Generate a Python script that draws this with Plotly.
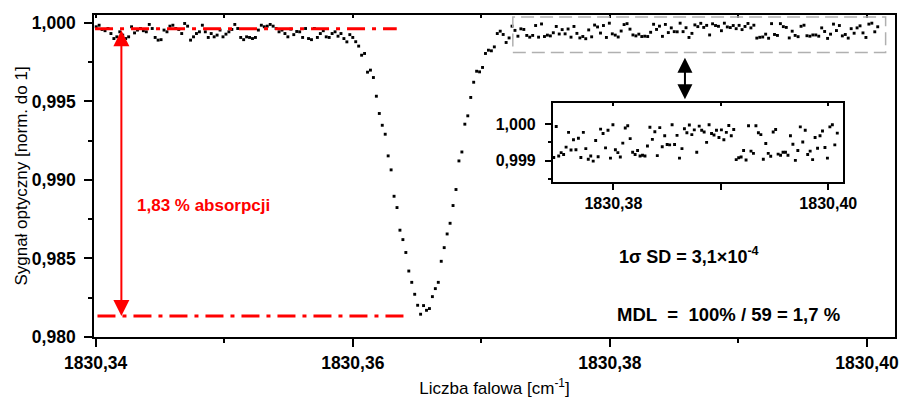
import numpy as np
import plotly.graph_objects as go

# Wavenumber sampling grid of the scan [cm^-1]
wavenumber_start = 1830.34004
wavenumber_step = 0.00022942

# Normalised optical signal, one value per grid point
signal = [
    0.99975, 0.99985, 0.99958, 0.99950, 0.99964, 0.99932, 0.99900, 0.99911, 0.99943, 0.99922,
    0.99900, 0.99911, 0.99975, 0.99936, 0.99954, 0.99964, 0.99950, 0.99943, 0.99990, 0.99964,
    0.99907, 0.99890, 0.99893, 0.99954, 0.99943, 0.99979, 0.99985, 0.99964, 0.99958, 0.99932,
    0.99996, 0.99979, 0.99890, 0.99911, 0.99932, 0.99943, 0.99985, 0.99943, 0.99907, 0.99932,
    0.99911, 0.99922, 0.99954, 0.99911, 0.99928, 0.99943, 0.99958, 0.99990, 0.99964, 0.99907,
    0.99893, 0.99911, 0.99907, 0.99900, 0.99907, 0.99954, 0.99985, 0.99975, 0.99979, 0.99990,
    0.99979, 0.99964, 0.99943, 0.99954, 0.99932, 0.99911, 0.99960, 0.99925, 0.99945, 0.99943,
    0.99907, 0.99964, 0.99900, 0.99893, 0.99964, 0.99907, 0.99932, 0.99950, 0.99911, 0.99907,
    0.99932, 0.99943, 0.99915, 0.99932, 0.99900, 0.99879, 0.99925,
    # absorption line
    0.99907, 0.99880, 0.99852, 0.99794, 0.99805, 0.99686, 0.99699, 0.99652, 0.99533, 0.99423,
    0.99348, 0.99291, 0.99153, 0.99064, 0.98896, 0.98824, 0.98680, 0.98620, 0.98538, 0.98420,
    0.98348, 0.98272, 0.98202, 0.98145, 0.98200, 0.98170, 0.98181, 0.98257, 0.98308, 0.98348,
    0.98482, 0.98569, 0.98656, 0.98724, 0.98837, 0.98939, 0.99121, 0.99178, 0.99355, 0.99408,
    0.99525, 0.99622, 0.99692, 0.99688, 0.99716, 0.99805, 0.99826, 0.99822, 0.99847, 0.99932,
    0.99947, 0.99926, 0.99875, 0.99904, 0.99979,
    0.99952, 0.99915, 0.99962, 0.99958, 0.99920, 0.99909, 0.99920, 0.99983, 0.99909,
    # baseline used for the noise estimate
    0.99993, 0.99913, 0.99922, 0.99917, 0.99937, 0.99977, 0.99929, 0.99957, 0.99930, 0.99961,
    0.99909, 0.99977, 0.99933, 0.99904, 0.99913, 0.99899, 0.99955, 0.99911, 0.99986, 0.99974,
    0.99935, 0.99983, 0.99907, 0.99998, 0.99930, 0.99922, 0.99910, 0.99948, 0.99989, 0.99995,
    0.99960, 0.99923, 0.99917, 0.99928, 0.99913, 0.99915, 0.99913, 0.99940, 0.99991, 0.99958,
    0.99979, 0.99914, 0.99990, 0.99938, 0.99968, 0.99944, 0.99943, 0.99998, 0.99944, 0.99969,
    0.99907, 0.99933, 0.99987, 0.99976, 0.99997, 0.99971, 0.99984,
    0.99923, 0.99994, 0.99983, 0.99978, 0.99950, 0.99998, 0.99974, 0.99970, 0.99983, 0.99963,
    0.99984, 0.99957, 0.99977, 0.99996, 0.99968, 0.99985, 0.99903, 0.99908, 0.99910, 0.99928,
    0.99902, 0.99995, 0.99926, 0.99920, 0.99995, 0.99976, 0.99971, 0.99904, 0.99947, 0.99920,
    0.99912, 0.99978, 0.99985, 0.99918, 0.99915, 0.99923, 0.99923, 0.99915, 0.99968, 0.99945,
    0.99901, 0.99928, 0.99992, 0.99951, 0.99983, 0.99917, 0.99926, 0.99903, 0.99963, 0.99934,
    0.99968, 0.99981, 0.99936, 0.99907, 0.99992, 0.99998, 0.99943, 0.99975,
]

# Axis ticks and labels
main_x_ticks = [1830.34, 1830.36, 1830.38, 1830.40]
main_x_labels = ["1830,34", "1830,36", "1830,38", "1830,40"]
main_x_minor = [1830.35, 1830.37, 1830.39]
main_y_ticks = [0.980, 0.985, 0.990, 0.995, 1.000]
main_y_labels = ["0,980", "0,985", "0,990", "0,995", "1,000"]
main_y_minor = [0.9825, 0.9875, 0.9925, 0.9975]
inset_x_ticks = [1830.38, 1830.40]
inset_x_labels = ["1830,38", "1830,40"]
inset_x_minor = [1830.39]
inset_y_ticks = [0.999, 1.000]
inset_y_labels = ["0,999", "1,000"]
inset_y_minor = [0.9985, 0.9995]

# Absorption depth and the noise figures
absorption_pct = 1.83
baseline_level = 0.99963
peak_level = baseline_level * (1 - absorption_pct / 100)

main_x_range = [1830.33987, 1830.40218]
main_y_range = [0.980, 1.0005]
inset_x_range = [1830.37438, 1830.40134]
inset_y_range = [0.99843, 1.00057]

x = wavenumber_start + wavenumber_step * np.arange(len(signal))
y = np.array(signal)
in_inset = (x >= inset_x_range[0]) & (x <= inset_x_range[1])

FONT = "Liberation Sans, Arial, sans-serif"
RED = "#ff0000"

fig = go.Figure()
marker = dict(symbol="square", size=2.9, color="black", line=dict(width=0))
fig.add_trace(go.Scatter(x=x, y=y, mode="markers", marker=marker, xaxis="x", yaxis="y"))
fig.add_trace(go.Scatter(x=x[in_inset], y=y[in_inset], mode="markers", marker=marker,
                         xaxis="x2", yaxis="y2"))
# carriers for the top tick rows
fig.add_trace(go.Scatter(x=[], y=[], xaxis="x3", yaxis="y"))
fig.add_trace(go.Scatter(x=[], y=[], xaxis="x4", yaxis="y2"))

tickfont_main = dict(family=FONT, size=17.5, color="black", weight="bold")
tickfont_inset = dict(family=FONT, size=16, color="black", weight="bold")

common = dict(showgrid=False, zeroline=False, showline=True, linecolor="black",
              ticks="outside", tickcolor="black", automargin=False)

fig.update_layout(
    width=900, height=398,
    margin=dict(l=94, r=5, t=15, b=61),
    plot_bgcolor="white", paper_bgcolor="white",
    showlegend=False,
    xaxis=dict(common, range=main_x_range, domain=[0, 1], anchor="y", mirror=True, linewidth=1.7,
               tickvals=main_x_ticks, ticktext=main_x_labels, ticklen=8, tickwidth=1.7,
               minor=dict(tickvals=main_x_minor, ticklen=4, tickwidth=1.7, ticks="outside",
                          tickcolor="black", showgrid=False),
               tickfont=tickfont_main, ticklabelstandoff=1,
               title=dict(text="Liczba falowa [cm<sup>-1</sup>]", standoff=27,
                          font=dict(family=FONT, size=17, color="black"))),
    yaxis=dict(common, range=main_y_range, domain=[0, 1], anchor="x", mirror=True, linewidth=1.7,
               tickvals=main_y_ticks, ticktext=main_y_labels, ticklen=8, tickwidth=1.7,
               minor=dict(tickvals=main_y_minor, ticklen=4, tickwidth=1.7, ticks="outside",
                          tickcolor="black", showgrid=False),
               tickfont=tickfont_main, ticklabelstandoff=5,
               title=dict(text="Sygnał optyczny [norm. do 1]", standoff=0,
                          font=dict(family=FONT, size=17, color="black"))),
    xaxis2=dict(common, range=inset_x_range, domain=[0.573, 0.9347], anchor="y2", mirror=True,
                linewidth=2, tickvals=inset_x_ticks, ticktext=inset_x_labels, ticklen=6,
                tickwidth=1.7,
                minor=dict(tickvals=inset_x_minor, ticklen=6, tickwidth=1.7, ticks="outside",
                           tickcolor="black", showgrid=False),
                tickfont=tickfont_inset, ticklabelstandoff=0),
    yaxis2=dict(common, range=inset_y_range, domain=[0.4823, 0.7267], anchor="x2", mirror=True,
                linewidth=2, tickvals=inset_y_ticks, ticktext=inset_y_labels, ticklen=6,
                tickwidth=1.7,
                minor=dict(tickvals=inset_y_minor, ticklen=3, tickwidth=1.7, ticks="outside",
                           tickcolor="black", showgrid=False),
                tickfont=tickfont_inset, ticklabelstandoff=6),
    xaxis3=dict(overlaying="x", side="top", anchor="y", range=main_x_range, showgrid=False,
                zeroline=False, showline=False, showticklabels=False, ticks="inside",
                ticklen=3, tickwidth=1.5, tickcolor="black", automargin=False,
                tickvals=sorted(main_x_ticks + main_x_minor)),
    xaxis4=dict(overlaying="x2", side="top", anchor="y2", range=inset_x_range, showgrid=False,
                zeroline=False, showline=False, showticklabels=False, ticks="inside",
                ticklen=3, tickwidth=1.5, tickcolor="black", automargin=False,
                tickvals=sorted(inset_x_ticks + inset_x_minor)),
)

# Baseline and peak levels (dash-dot red)
redline = dict(color=RED, width=3, dash="18px,7px,4px,7px")
fig.add_shape(type="line", xref="x", yref="y", x0=1830.33995, x1=1830.36342,
              y0=baseline_level, y1=baseline_level, line=redline, layer="above")
fig.add_shape(type="line", xref="x", yref="y", x0=1830.34014, x1=1830.36449,
              y0=peak_level, y1=peak_level, line=redline, layer="above")

# Dashed frame marking the zoomed baseline region
fig.add_shape(type="rect", xref="x", yref="y", x0=1830.37245, x1=1830.40145,
              y0=0.99811, y1=1.00038, line=dict(color="#b0b0b0", width=1.5, dash="13px,6px"),
              fillcolor="rgba(0,0,0,0)", layer="above")

# Double-headed arrows
fig.add_annotation(x=1830.3420, y=peak_level, ax=1830.3420, ay=baseline_level,
                   xref="x", yref="y", axref="x", ayref="y", text="", showarrow=True,
                   arrowside="end+start", arrowhead=2, arrowsize=1.6, arrowwidth=2,
                   arrowcolor=RED, standoff=0, startstandoff=0)
fig.add_annotation(x=1830.38584, y=0.99514, ax=1830.38584, ay=0.99788,
                   xref="x", yref="y", axref="x", ayref="y", text="", showarrow=True,
                   arrowside="end+start", arrowhead=2, arrowsize=1.5, arrowwidth=2,
                   arrowcolor="black", standoff=0, startstandoff=0)

# Text labels
fig.add_annotation(x=1830.34304, y=0.98839, xref="x", yref="y", showarrow=False,
                   xanchor="left", yanchor="middle",
                   text=f"{absorption_pct:.2f}".replace(".", ",") + " % absorpcji",
                   font=dict(family=FONT, size=17, color=RED, weight="bold"))
fig.add_annotation(x=1830.38054, y=0.98520, xref="x", yref="y", showarrow=False,
                   xanchor="left", yanchor="middle",
                   text="1σ SD = 3,1×10<sup>-4</sup>",
                   font=dict(family=FONT, size=18, color="black", weight="bold"))
fig.add_annotation(x=1830.38040, y=0.98143, xref="x", yref="y", showarrow=False,
                   xanchor="left", yanchor="middle",
                   text="MDL&nbsp; = &nbsp;100% / 59 = 1,7 %",
                   font=dict(family=FONT, size=18.5, color="black", weight="bold"))

fig.write_html("out.html")
